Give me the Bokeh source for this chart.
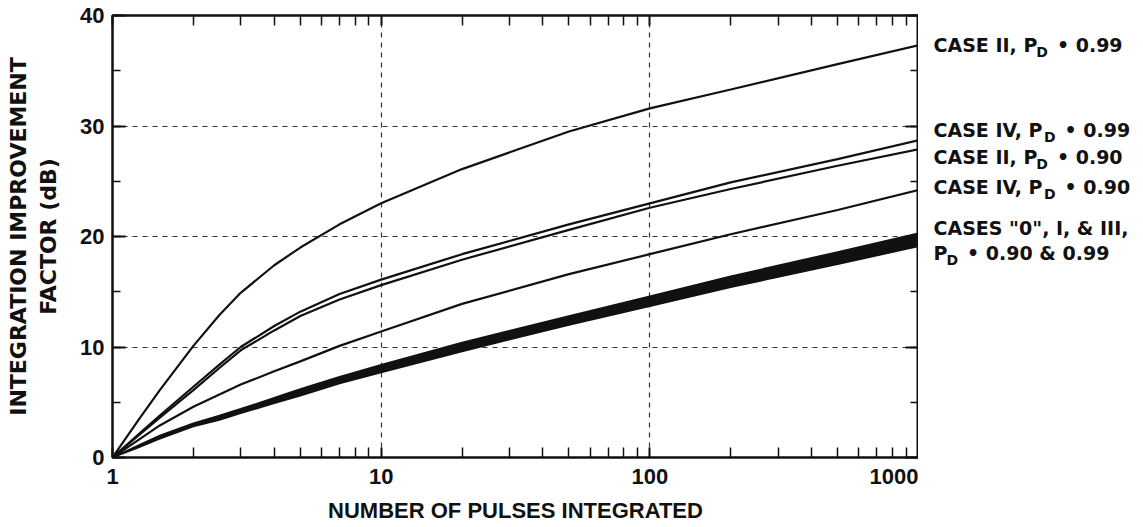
import numpy as np
from bokeh.plotting import figure
from bokeh.layouts import row
from bokeh.models import (FixedTicker, LogAxis, LinearAxis, Label, NumeralTickFormatter,
                          Range1d, SingleIntervalTicker)
from bokeh.embed import file_html
from bokeh.resources import INLINE

# ---- data ----
pulses = [1, 1.25, 1.5, 2, 2.5, 3, 4, 5, 7, 10, 20, 50, 100, 200, 500, 1000]
case2_p99 = [0, 3.4, 6.1, 10.1, 12.9, 14.9, 17.4, 19.0, 21.1, 23.0, 26.1, 29.5, 31.6, 33.3, 35.6, 37.3]
case4_p99 = [0, 2.1, 3.8, 6.4, 8.4, 10.0, 11.9, 13.2, 14.8, 16.1, 18.4, 21.1, 23.0, 24.9, 27.0, 28.7]
case2_p90 = [0, 2.0, 3.6, 6.1, 8.1, 9.7, 11.5, 12.8, 14.3, 15.6, 17.9, 20.6, 22.6, 24.3, 26.4, 27.9]
case4_p90 = [0, 1.6, 2.9, 4.6, 5.7, 6.6, 7.8, 8.7, 10.1, 11.4, 13.9, 16.6, 18.4, 20.2, 22.4, 24.2]
band_upper = [0, 1.1, 2.0, 3.1, 3.8, 4.4, 5.4, 6.2, 7.3, 8.4, 10.4, 12.8, 14.6, 16.4, 18.6, 20.3]
band_lower = [0, 0.9, 1.7, 2.8, 3.4, 4.0, 4.9, 5.6, 6.7, 7.7, 9.6, 12.0, 13.7, 15.4, 17.5, 19.1]

x_major = [1, 10, 100, 1000]
x_minor = [2, 3, 4, 5, 6, 7, 8, 9, 20, 30, 40, 50, 60, 70, 80, 90,
           200, 300, 400, 500, 600, 700, 800, 900]
x_tick_labels = ["1", "10", "100", "1000"]

# right-hand labels: (before subscript, subscript, after subscript)
label_pieces = [
    ("CASE II, P", "D", "\u2022 0.99"),
    ("CASE IV, P", "D", "\u2022 0.99"),
    ("CASE II, P", "D", "\u2022 0.90"),
    ("CASE IV, P", "D", "\u2022 0.90"),
    ("CASES \"0\", I, & III,", "", ""),
    ("P", "D", "\u2022 0.90 & 0.99"),
]
label_y = [37.3, 29.6, 27.2, 24.5, 20.8, 18.5]

FONT = "Liberation Sans"
LFONT = "DejaVu Sans"
BLACK = "#111111"

p = figure(frame_width=806, frame_height=442, x_axis_type="log",
           x_range=Range1d(1, 1000), y_range=Range1d(0, 40),
           output_backend="svg", toolbar_location=None,
           min_border_left=112, min_border_right=0,
           min_border_top=15, min_border_bottom=70,
           background_fill_color="white", border_fill_color="white")

p.outline_line_color = BLACK
p.outline_line_width = 2

# grids
p.xgrid.ticker = FixedTicker(ticks=[10, 100])
p.ygrid.ticker = FixedTicker(ticks=[10, 20, 30])
for g in (p.xgrid, p.ygrid):
    g.grid_line_color = "#333333"
    g.grid_line_dash = "5 5"
    g.grid_line_width = 1.2

xticker = FixedTicker(ticks=x_major, minor_ticks=x_minor)
yticker = SingleIntervalTicker(interval=10, num_minor_ticks=2)

xa = p.xaxis[0]
xa.ticker = xticker
xa.major_label_overrides = {v: t for v, t in zip(x_major, x_tick_labels)}
xa.formatter = NumeralTickFormatter(format="0")
ya = p.yaxis[0]
ya.ticker = yticker

top = LogAxis(ticker=xticker)
right = LinearAxis(ticker=yticker)
p.add_layout(top, "above")
p.add_layout(right, "right")

for ax in (xa, top):
    ax.major_tick_in = 10
    ax.major_tick_out = 0
    ax.minor_tick_in = 10
    ax.minor_tick_out = 0
for ax in (ya, right):
    ax.major_tick_in = 13
    ax.major_tick_out = 0
    ax.minor_tick_in = 8
    ax.minor_tick_out = 0
for ax in (xa, ya, top, right):
    ax.axis_line_color = BLACK
    ax.axis_line_width = 2
    ax.major_tick_line_color = BLACK
    ax.major_tick_line_width = 2
    ax.minor_tick_line_color = BLACK
    ax.minor_tick_line_width = 1.5
    ax.major_label_text_font = FONT
    ax.major_label_text_font_style = "bold"
    ax.major_label_text_color = BLACK
    ax.axis_label_text_font = FONT
    ax.axis_label_text_font_style = "bold"
    ax.axis_label_text_color = BLACK
for ax in (top, right):
    ax.major_label_text_font_size = "1px"
    ax.major_label_text_alpha = 0
    ax.major_label_standoff = 0

xa.major_label_text_font_size = "22px"
xa.major_label_standoff = 11
xa.axis_label = "NUMBER OF PULSES INTEGRATED"
xa.axis_label_text_font_size = "22px"
xa.axis_label_standoff = 11

ya.major_label_text_font_size = "22px"
ya.major_label_standoff = 8
ya.axis_label = "INTEGRATION IMPROVEMENT\nFACTOR (dB)"
ya.axis_label_text_font = LFONT
ya.axis_label_text_font_size = "22px"
ya.axis_label_standoff = 16

# curves
p.varea(x=pulses, y1=band_lower, y2=band_upper, fill_color=BLACK)
p.line(pulses, band_upper, line_color=BLACK, line_width=1.6)
p.line(pulses, band_lower, line_color=BLACK, line_width=1.6)
for ys in (case2_p99, case4_p99, case2_p90, case4_p90):
    p.line(pulses, ys, line_color=BLACK, line_width=2.2)

# ---- side panel holding the right-hand curve labels (same vertical scale) ----
SIDE_W = 218
q = figure(frame_width=SIDE_W, frame_height=442, x_range=Range1d(0, SIDE_W),
           y_range=Range1d(0, 40), output_backend="svg", toolbar_location=None,
           x_axis_location=None, y_axis_location=None,
           min_border_left=0, min_border_right=0,
           min_border_top=15, min_border_bottom=70,
           background_fill_color="white", border_fill_color="white")
q.outline_line_color = None
q.xgrid.visible = False
q.ygrid.visible = False

# DejaVu Sans Bold advance widths (em)
W = {' ': .348, ',': .380, '.': .380, 'A': .774, 'C': .734, 'D': .830, 'E': .683,
     'I': .372, 'P': .733, 'S': .720, 'V': .774, '"': .521, '&': .872}
def width(s, size):
    return sum(W.get(c, .696) for c in s) * size

FS = 19
SUB = 14
x0 = 15
for (a, sub, b), yv in zip(label_pieces, label_y):
    q.add_layout(Label(x=x0, y=yv, text=a, text_baseline="middle",
                       text_font=LFONT, text_font_style="bold", text_font_size=f"{FS}px",
                       text_color=BLACK))
    if sub:
        xs = x0 + width(a, FS) - 1
        q.add_layout(Label(x=xs, y=yv, text=sub, y_offset=-7,
                           text_baseline="middle", text_font=LFONT, text_font_style="bold",
                           text_font_size=f"{SUB}px", text_color=BLACK))
        xb = xs + width(sub, SUB) + 9
        q.add_layout(Label(x=xb, y=yv, text=b, text_baseline="middle",
                           text_font=LFONT, text_font_style="bold", text_font_size=f"{FS}px",
                           text_color=BLACK))

open("out.html", "w").write(file_html(row(p, q, spacing=0), INLINE))
